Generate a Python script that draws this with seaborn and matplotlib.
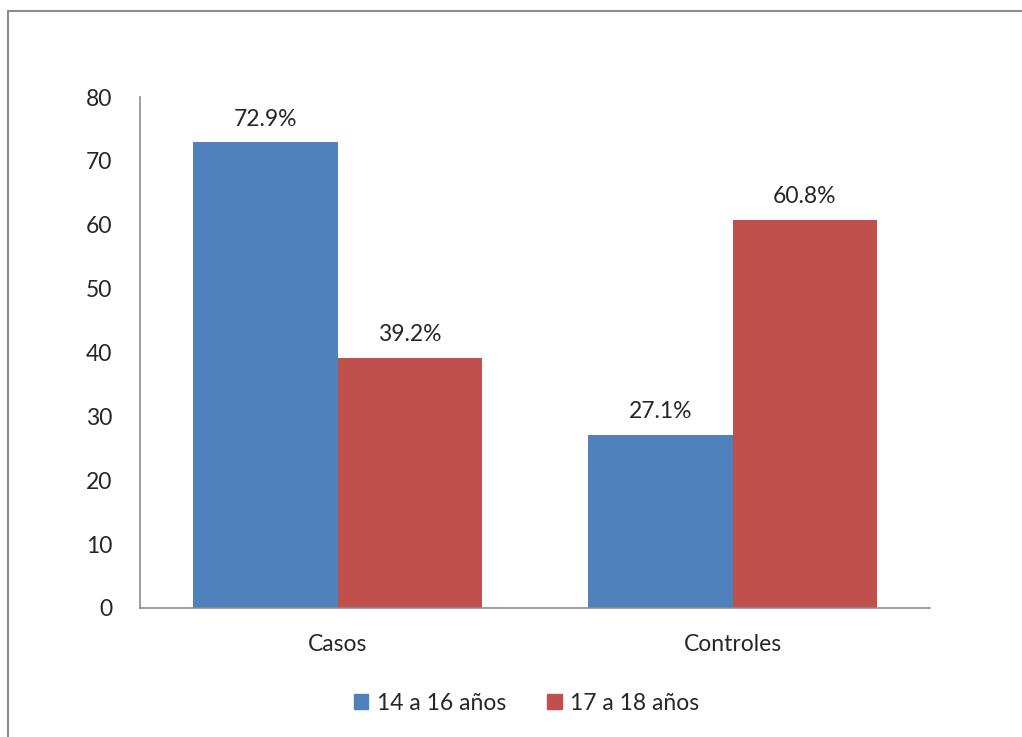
import pandas as pd
import seaborn as sns
import matplotlib.pyplot as plt
from matplotlib.lines import Line2D
from matplotlib.patches import Patch

# data
groups = ["Casos", "Controles"]
age_14_16 = [72.9, 27.1]
age_17_18 = [39.2, 60.8]
series_names = ["14 a 16 años", "17 a 18 años"]
colors = ["#4F81BD", "#C0504D"]

df = pd.DataFrame({
    "grupo": groups * 2,
    "edad": [series_names[0]] * 2 + [series_names[1]] * 2,
    "pct": age_14_16 + age_17_18,
})

sns.set_style("white")
plt.rcParams["font.family"] = ["Lato", "DejaVu Sans"]

fig = plt.figure(figsize=(10.22, 7.37), dpi=100)
ax = fig.add_axes([140 / 1022, 1 - 608 / 737, 790 / 1022, 511 / 737])

sns.barplot(data=df, x="grupo", y="pct", hue="edad", palette=colors,
            width=0.73, saturation=1, linewidth=0, ax=ax, legend=False)

for cont in ax.containers:
    ax.bar_label(cont, fmt="%.1f%%", padding=9, fontsize=16.5)

ax.set_ylim(0, 80)
ax.set_xlim(-0.5, 1.5)
ax.set_yticks(range(0, 81, 10))
ax.set_xlabel("")
ax.set_ylabel("")
ax.tick_params(axis="both", length=0, labelsize=16.5)
ax.tick_params(axis="y", pad=20)
ax.tick_params(axis="x", pad=19)
for s in ["top", "right"]:
    ax.spines[s].set_visible(False)
for s in ["left", "bottom"]:
    ax.spines[s].set_color("#8c8c8c")
    ax.spines[s].set_linewidth(1.2)

handles = [Patch(facecolor=c, edgecolor=c) for c in colors]
fig.legend(handles, series_names, loc="center", bbox_to_anchor=(0.515, 1 - 703 / 737),
           ncol=2, frameon=False, fontsize=16.5, handlelength=0.65, handleheight=0.65,
           columnspacing=1.8, handletextpad=0.35)

# outer chart frame (top and left edges visible)
fig.add_artist(Line2D([8 / 1022, 1], [1 - 11 / 737] * 2, color="#8c8c8c", lw=1.5,
                      transform=fig.transFigure))
fig.add_artist(Line2D([8 / 1022] * 2, [0, 1 - 11 / 737], color="#8c8c8c", lw=1.5,
                      transform=fig.transFigure))

fig.savefig("out.png", dpi=100)
